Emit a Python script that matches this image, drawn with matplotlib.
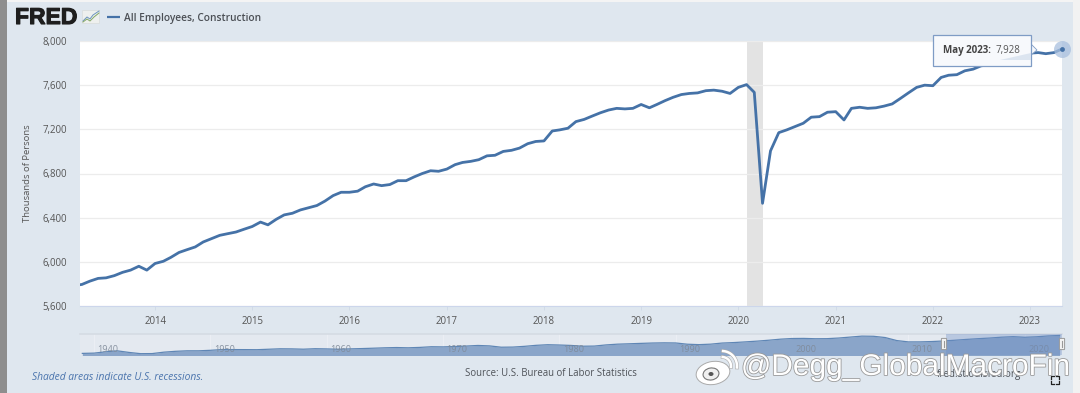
import numpy as np
import pandas as pd
import matplotlib
matplotlib.use("Agg")
import matplotlib.pyplot as plt
import matplotlib.patheffects as pe
from matplotlib.patches import Rectangle, Ellipse, FancyBboxPatch, Polygon

W, H = 1080, 393

employees = [
    5785, 5795, 5825, 5850, 5855, 5875, 5905, 5925, 5960, 5925,
    5985, 6005, 6040, 6085, 6110, 6135, 6180, 6210, 6240, 6255, 6270, 6295,
    6320, 6360, 6335, 6385, 6425, 6440, 6470, 6490, 6510, 6550, 6600, 6630,
    6630, 6640, 6680, 6705, 6690, 6700, 6735, 6735, 6770, 6800, 6825, 6820,
    6840, 6880, 6900, 6910, 6925, 6960, 6965, 7000, 7010, 7030, 7070, 7090,
    7095, 7185, 7195, 7210, 7270, 7290, 7320, 7350, 7375, 7390, 7385, 7390,
    7425, 7395, 7425, 7460, 7490, 7515, 7525, 7530, 7550, 7555, 7545, 7525,
    7580, 7605, 7535, 6530, 7005, 7170, 7195, 7225, 7255, 7310, 7315, 7355,
    7360, 7285, 7390, 7400, 7390, 7395, 7410, 7430, 7480, 7530, 7580, 7600,
    7595, 7670, 7690, 7695, 7730, 7745, 7775, 7785, 7800, 7820, 7840, 7860,
    7890, 7895, 7885, 7895, 7928,
]
dates = pd.date_range("2013-03-01", periods=len(employees), freq="MS")

y_ticks = [5600, 6000, 6400, 6800, 7200, 7600, 8000]
x_years = [2014, 2015, 2016, 2017, 2018, 2019, 2020, 2021, 2022, 2023]

nav_years = list(range(1939, 2024))
nav_values = [
    1200, 1300, 1790, 2170, 1570, 1100, 1130, 1660, 1980, 2170, 2170,
    2360, 2640, 2630, 2620, 2590, 2760, 2930, 2900, 2780, 2960,
    2890, 2760, 2900, 3010, 3150, 3300, 3400, 3300, 3450, 3700,
    3650, 3770, 3960, 4180, 4020, 3525, 3575, 3850, 4230, 4460,
    4350, 4190, 3900, 3950, 4380, 4670, 4810, 4960, 5100, 5170,
    5120, 4650, 4490, 4670, 5090, 5270, 5530, 5810, 6150, 6545,
    6790, 6830, 6710, 6735, 6970, 7330, 7690, 7630, 7160, 6020,
    5520, 5530, 5650, 5860, 6150, 6460, 6730, 6970, 7290, 7490,
    7260, 7440, 7760, 7928, 7928,
][:len(nav_years)]
nav_ticks = [1940, 1950, 1960, 1970, 1980, 1990, 2000, 2010, 2020]

BG = "#dfe7ef"
BLUE = "#4572a7"
TXT = "#555555"
plt.rcParams["font.family"] = ["Open Sans", "DejaVu Sans"]


def box(x0, y0, x1, y1):
    # pixel box (top-left origin) to figure fractions
    return [x0 / W, 1 - y1 / H, (x1 - x0) / W, (y1 - y0) / H]


fig = plt.figure(figsize=(W / 100, H / 100), dpi=100, facecolor=BG)

# page frame
bg = fig.add_axes([0, 0, 1, 1], zorder=0)
bg.set_xlim(0, W)
bg.set_ylim(H, 0)
bg.axis("off")
bg.add_patch(Rectangle((0, 0), 6.5, H, fc="#8e8e8e", ec="none"))
bg.add_patch(Rectangle((6.5, 0), W, 1.5, fc="#f4f4f4", ec="none"))
bg.add_patch(Rectangle((1073, 0), 7, H, fc="#f2f2f2", ec="none"))

# main chart
ax = fig.add_axes(box(80, 41, 1062, 306), zorder=1)
ax.set_facecolor("white")
ax.plot(dates, employees, color=BLUE, lw=2.0, solid_joinstyle="round", zorder=3)
ax.axvspan(pd.Timestamp("2020-02-01"), pd.Timestamp("2020-04-01"), color="#e3e3e3", lw=0, zorder=1)
ax.set_xlim(pd.Timestamp("2013-03-25"), dates[-1])
ax.set_ylim(5600, 8000)
ax.set_yticks(y_ticks)
ax.set_yticklabels([f"{v:,}" for v in y_ticks], fontsize=6.9, color=TXT)
ax.set_xticks([pd.Timestamp(f"{y}-01-01") for y in x_years])
ax.set_xticklabels([str(y) for y in x_years], fontsize=6.9, color=TXT)
ax.grid(axis="y", color="#ececec", lw=0.9, zorder=0)
ax.tick_params(axis="y", length=0, pad=9.5)
ax.tick_params(axis="x", length=3, width=0.6, color="#cfd9e6", pad=4)
for s in ax.spines.values():
    s.set_visible(False)
ax.spines["bottom"].set_visible(True)
ax.spines["bottom"].set_color("#ccd6eb")
ax.spines["bottom"].set_linewidth(0.8)
ax.set_ylabel("Thousands of Persons", fontsize=6.8, color=TXT, labelpad=7.5)

# end point halo and dot
ax.scatter([dates[-1]], [employees[-1]], s=150, color="#a9c0de", alpha=0.75, lw=0, zorder=4, clip_on=False)
ax.scatter([dates[-1]], [employees[-1]], s=12, color=BLUE, lw=0, zorder=5, clip_on=False)

# navigator
nav = fig.add_axes(box(80, 334, 1062, 355), zorder=1)
nav.set_facecolor("#e4e9f0")
nav.fill_between(nav_years, nav_values, 0, color="#8aa5c9", lw=0, zorder=2)
nav.plot(nav_years, nav_values, color="#5f86b5", lw=0.9, zorder=3)
nav.set_xlim(1938.8, 2023.2)
nav.set_ylim(600, 8490)
nav.set_xticks(nav_ticks)
nav.set_xticklabels([])
nav.set_yticks([])
nav.grid(axis="x", color="#edf0f5", lw=0.6, zorder=1)
nav.tick_params(length=0)
for s in nav.spines.values():
    s.set_visible(False)
nav.spines["top"].set_visible(True)
nav.spines["top"].set_color("#d5dbe3")
nav.spines["top"].set_linewidth(1.2)
for y in nav_ticks:
    nav.text(y + 1.2, 2800, str(y), fontsize=6.6, color="#7f8a99", alpha=0.9, ha="center", va="center", zorder=4)
nav.axvspan(2013.25, 2023.2, color="#6b8cc4", alpha=0.35, lw=0, zorder=5)

# overlay for legend, tooltip, footer
top = fig.add_axes([0, 0, 1, 1], zorder=3)
top.set_xlim(0, W)
top.set_ylim(H, 0)
top.axis("off")
top.patch.set_alpha(0)

# logo
top.text(15, 17.5, "FRED", fontsize=16.5, fontweight="bold", color="#1e1e1e", va="center", ha="left",
         family=["Liberation Sans"], path_effects=[pe.withStroke(linewidth=0.8, foreground="#1e1e1e")])
top.add_patch(FancyBboxPatch((83, 11), 16, 12, boxstyle="round,pad=0.5", fc="#eef0ee", ec="#d5d9d5", lw=0.4))
top.plot([83, 87, 90, 93, 99], [21, 17, 19, 15, 11], color="#6d95bd", lw=0.7)
top.plot([83, 87, 90, 94, 99], [22, 19, 21, 17, 13], color="#85a865", lw=0.7)

# legend
top.plot([107, 120], [17, 17], color=BLUE, lw=1.6, solid_capstyle="butt")
top.text(124.5, 18, "All Employees, Construction", fontsize=7.25, fontweight="semibold", color="#4b4f55", va="center")

# tooltip
top.add_patch(Polygon([[1031, 44], [1037, 50], [1031, 55]], fc="#f7f9fc", ec="#7f9cc5", lw=0.6, zorder=2))
top.add_patch(Rectangle((933, 34.5), 98, 31, fc="#f7f9fc", ec="#7f9cc5", lw=0.9, zorder=3))
top.add_patch(Polygon([[1000, 60], [1031, 53], [1031, 60]], fc="#d6e0ee", ec="none", alpha=0.8, zorder=4))
top.text(943, 50, "May 2023:", fontsize=7.0, fontweight="bold", color="#444444", va="center", zorder=5)
top.text(1020, 50, "7,928", fontsize=7.0, color="#555555", va="center", ha="right", zorder=5)

# navigator handles
for x in [944, 1062]:
    top.add_patch(FancyBboxPatch((x - 2, 339), 4, 10, boxstyle="round,pad=0.6", fc="#f2f2f2", ec="#999999", lw=0.7))
    top.plot([x, x], [341, 347], color="#999999", lw=0.8)

# footer
top.text(32, 377.5, "Shaded areas indicate U.S. recessions.", fontsize=7.4, style="italic", color="#4a74ad", va="center")
top.text(465, 373, "Source: U.S. Bureau of Labor Statistics", fontsize=6.95, color="#4f5359", va="center")
top.text(937, 375, "fred.stlouisfed.org", fontsize=7.1, color="#4f5359", va="center")
for (x, y, dx, dy) in [(1051, 376, 3, 3), (1059, 376, -3, 3), (1051, 384, 3, -3), (1059, 384, -3, -3)]:
    top.plot([x + dx, x, x], [y, y, y + dy], color="#222222", lw=0.9)

# watermark
edge = [pe.withStroke(linewidth=1.2, foreground="#9a9a9a")]
top.text(741, 367, "@Degg_GlobalMacroFin", fontsize=21.5, color="white", va="center", ha="left",
         family=["Liberation Sans"], path_effects=edge, zorder=6)
top.add_patch(Ellipse((713, 373), 34, 23, angle=-10, fc="white", ec="#aaaaaa", lw=0.7, zorder=6))
top.add_patch(Ellipse((711, 374), 16, 12, angle=-10, fc="#efefef", ec="#777777", lw=0.8, zorder=7))
top.add_patch(Ellipse((711, 374), 5, 4, fc="#555555", ec="none", zorder=8))
for r, lw in [(9, 1.8), (15, 1.8)]:
    t = np.linspace(-1.5, 0.1, 20)
    top.plot(722 + r * np.cos(t), 366 + r * np.sin(t), color="white", lw=lw,
             path_effects=[pe.withStroke(linewidth=lw + 0.8, foreground="#aaaaaa")], zorder=6)

fig.savefig("out.png", dpi=100, facecolor=fig.get_facecolor())
